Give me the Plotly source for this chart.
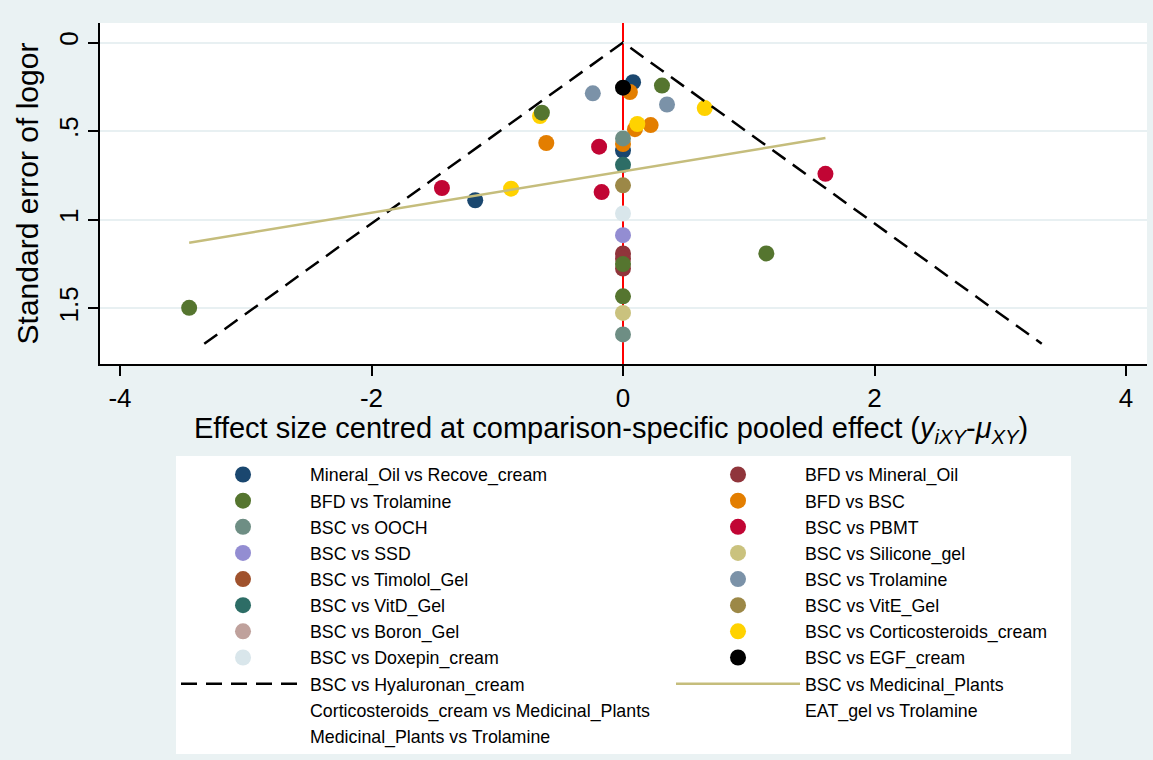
import plotly.graph_objects as go

# Comparison-adjusted funnel plot: one scatter series per comparison
series_names = [
    "Mineral_Oil vs Recove_cream", "BFD vs Mineral_Oil",
    "BFD vs Trolamine", "BFD vs BSC",
    "BSC vs OOCH", "BSC vs PBMT",
    "BSC vs SSD", "BSC vs Silicone_gel",
    "BSC vs Timolol_Gel", "BSC vs Trolamine",
    "BSC vs VitD_Gel", "BSC vs VitE_Gel",
    "BSC vs Boron_Gel", "BSC vs Corticosteroids_cream",
    "BSC vs Doxepin_cream", "BSC vs EGF_cream",
]
series_colors = [
    "#1a476f", "#90353b", "#55752f", "#e37e00", "#6e8e84", "#c10534",
    "#938dd2", "#cac27e", "#a0522d", "#7b92a8", "#2d6d66", "#9c8847",
    "#bfa19c", "#ffd200", "#d9e6eb", "#000000",
]
# centred effect sizes (x) and standard errors (y) per comparison
series_x = [
    [0.08, 0.0, -1.175],
    [0.0, 0.0, 0.0],
    [0.31, -0.645, 0.0, 1.14, 0.0, -3.45],
    [0.055, 0.095, 0.22, -0.61, 0.0],
    [0.0, 0.0],
    [-0.19, -1.44, -0.17, 1.61],
    [0.0],
    [0.0],
    [],
    [-0.24, 0.35],
    [0.0],
    [0.0],
    [],
    [0.65, -0.66, 0.114, -0.89],
    [0.0],
    [0.0],
]
series_y = [
    [0.224, 0.61, 0.89],
    [1.19, 1.22, 1.275],
    [0.243, 0.396, 1.25, 1.19, 1.432, 1.497],
    [0.28, 0.489, 0.466, 0.567, 0.573],
    [0.541, 1.647],
    [0.588, 0.821, 0.844, 0.741],
    [1.087],
    [1.526],
    [],
    [0.287, 0.35],
    [0.69],
    [0.806],
    [],
    [0.37, 0.415, 0.46, 0.825],
    [0.965],
    [0.255],
]
# order in which the scatter series are layered (first = bottom)
draw_order = [0, 1, 3, 13, 2, 4, 5, 6, 7, 8, 9, 10, 11, 12, 14, 15]

# pseudo 95% confidence funnel and fitted line
funnel_x = [-3.33, 0.0, 3.33]
funnel_y = [1.70, 0.0, 1.70]
fit_x = [-3.45, 1.61]
fit_y = [1.13, 0.539]

extra_names = [
    "Corticosteroids_cream vs Medicinal_Plants",
    "EAT_gel vs Trolamine",
    "Medicinal_Plants vs Trolamine",
]

x_ticks = [-4, -2, 0, 2, 4]
x_ticktext = ["-4", "-2", "0", "2", "4"]
y_ticks = [0, 0.5, 1, 1.5]
y_ticktext = ["0", ".5", "1", "1.5"]

FONT = "Liberation Sans, Arial, sans-serif"
LEFT_W = 356
RIGHT_W = 261

fig = go.Figure()

for i in draw_order:
    xs, ys = series_x[i], series_y[i]
    fig.add_trace(go.Scatter(
        x=xs if xs else [None], y=ys if ys else [None],
        mode="markers", name=series_names[i],
        marker=dict(color=series_colors[i], size=16, line=dict(width=0)),
        legendrank=100 + i,
        legendwidth=LEFT_W if i % 2 == 0 else RIGHT_W,
    ))

fig.add_trace(go.Scatter(
    x=funnel_x, y=funnel_y, mode="lines", name="BSC vs Hyaluronan_cream",
    line=dict(color="black", width=2.5, dash="16px,9px"),
    legendrank=116, legendwidth=LEFT_W,
))
fig.add_trace(go.Scatter(
    x=fit_x, y=fit_y, mode="lines", name="BSC vs Medicinal_Plants",
    line=dict(color="#c5bd7c", width=2.5),
    legendrank=117, legendwidth=RIGHT_W,
))
for j, name in enumerate(extra_names):
    fig.add_trace(go.Scatter(
        x=[None], y=[None], mode="markers", name=name,
        marker=dict(color="rgba(0,0,0,0)", size=16),
        legendrank=118 + j,
        legendwidth=LEFT_W if j % 2 == 0 else RIGHT_W,
    ))

# reference line at zero
fig.add_shape(type="line", xref="x", yref="paper", x0=0, x1=0, y0=0, y1=1,
              line=dict(color="#ff0000", width=2), layer="between")

# x-axis title
fig.add_annotation(
    text="Effect size centred at comparison-specific pooled effect "
         "(<i>y<sub>iXY</sub></i>-<i>μ<sub>XY</sub></i>)",
    xref="paper", yref="paper", x=0.488, y=-0.1924,
    xanchor="center", yanchor="middle", showarrow=False,
    font=dict(family=FONT, size=29, color="black"),
)

fig.update_layout(
    width=1153, height=760,
    margin=dict(l=100, r=6, t=23, b=394),
    paper_bgcolor="#eaf2f3",
    plot_bgcolor="white",
    font=dict(family=FONT, color="black"),
    showlegend=True,
    legend=dict(
        orientation="h",
        x=0.0726, xanchor="left",
        y=-0.2711, yanchor="top",
        bgcolor="white", borderwidth=0,
        font=dict(family=FONT, size=17.8, color="black"),
        itemwidth=124,
        entrywidthmode="pixels",
        itemclick=False, itemdoubleclick=False,
    ),
    xaxis=dict(
        range=[-4.159, 4.167],
        tickvals=x_ticks, ticktext=x_ticktext,
        ticks="outside", ticklen=10, tickwidth=1.5, tickcolor="black",
        tickfont=dict(family=FONT, size=26, color="black"),
        showgrid=False, zeroline=False,
        showline=True, linecolor="black", linewidth=1.5,
    ),
    yaxis=dict(
        range=[1.814, -0.11],
        tickvals=y_ticks, ticktext=y_ticktext, tickangle=-90,
        ticks="outside", ticklen=10, tickwidth=1.5, tickcolor="black",
        tickfont=dict(family=FONT, size=26, color="black"),
        showgrid=True, gridcolor="#e8f0f2", gridwidth=1.5,
        zeroline=False,
        showline=True, linecolor="black", linewidth=1.5,
        title=dict(
            text="Standard error of logor",
            font=dict(family=FONT, size=30, color="black"),
            standoff=6,
        ),
    ),
)

fig.write_html("out.html")
